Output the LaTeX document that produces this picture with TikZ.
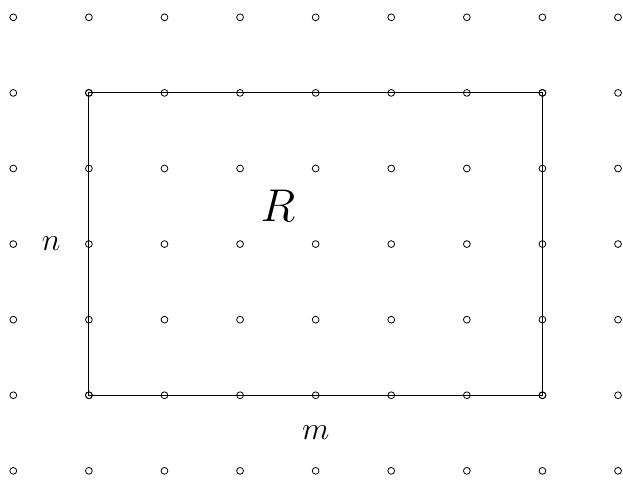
\documentclass[tikz,border=0pt]{standalone}
\begin{document}
\begin{tikzpicture}[
  dot/.style={circle,draw,inner sep=0pt,minimum size=0.09cm,line width=0.3pt},
  lbl/.style={inner sep=0pt}
]
\useasboundingbox (-0.176,-0.11) rectangle (8.066,6.229);
\node[dot] (r1) at (1,5) {};
\node[dot] (r2) at (7,5) {};
\node[dot] (r3) at (7,1) {};
\node[dot] (r4) at (1,1) {};
\draw[line width=0.4pt] (r1.center) -- (r2.center) -- (r3.center) -- (r4.center) -- cycle;
\foreach \i in {0,...,8}{
  \foreach \j in {0,...,6}{
    \node[dot,fill=white,fill opacity=0] (p\i-\j) at (\i,\j) {};
  }
}
\node[lbl] (R) at (3.5,3.5) {\LARGE $R$};
\node[lbl] (n) at (0.5,3) {\large $n$};
\node[lbl] (m) at (4,0.5) {\large $m$};
\end{tikzpicture}
\end{document}
